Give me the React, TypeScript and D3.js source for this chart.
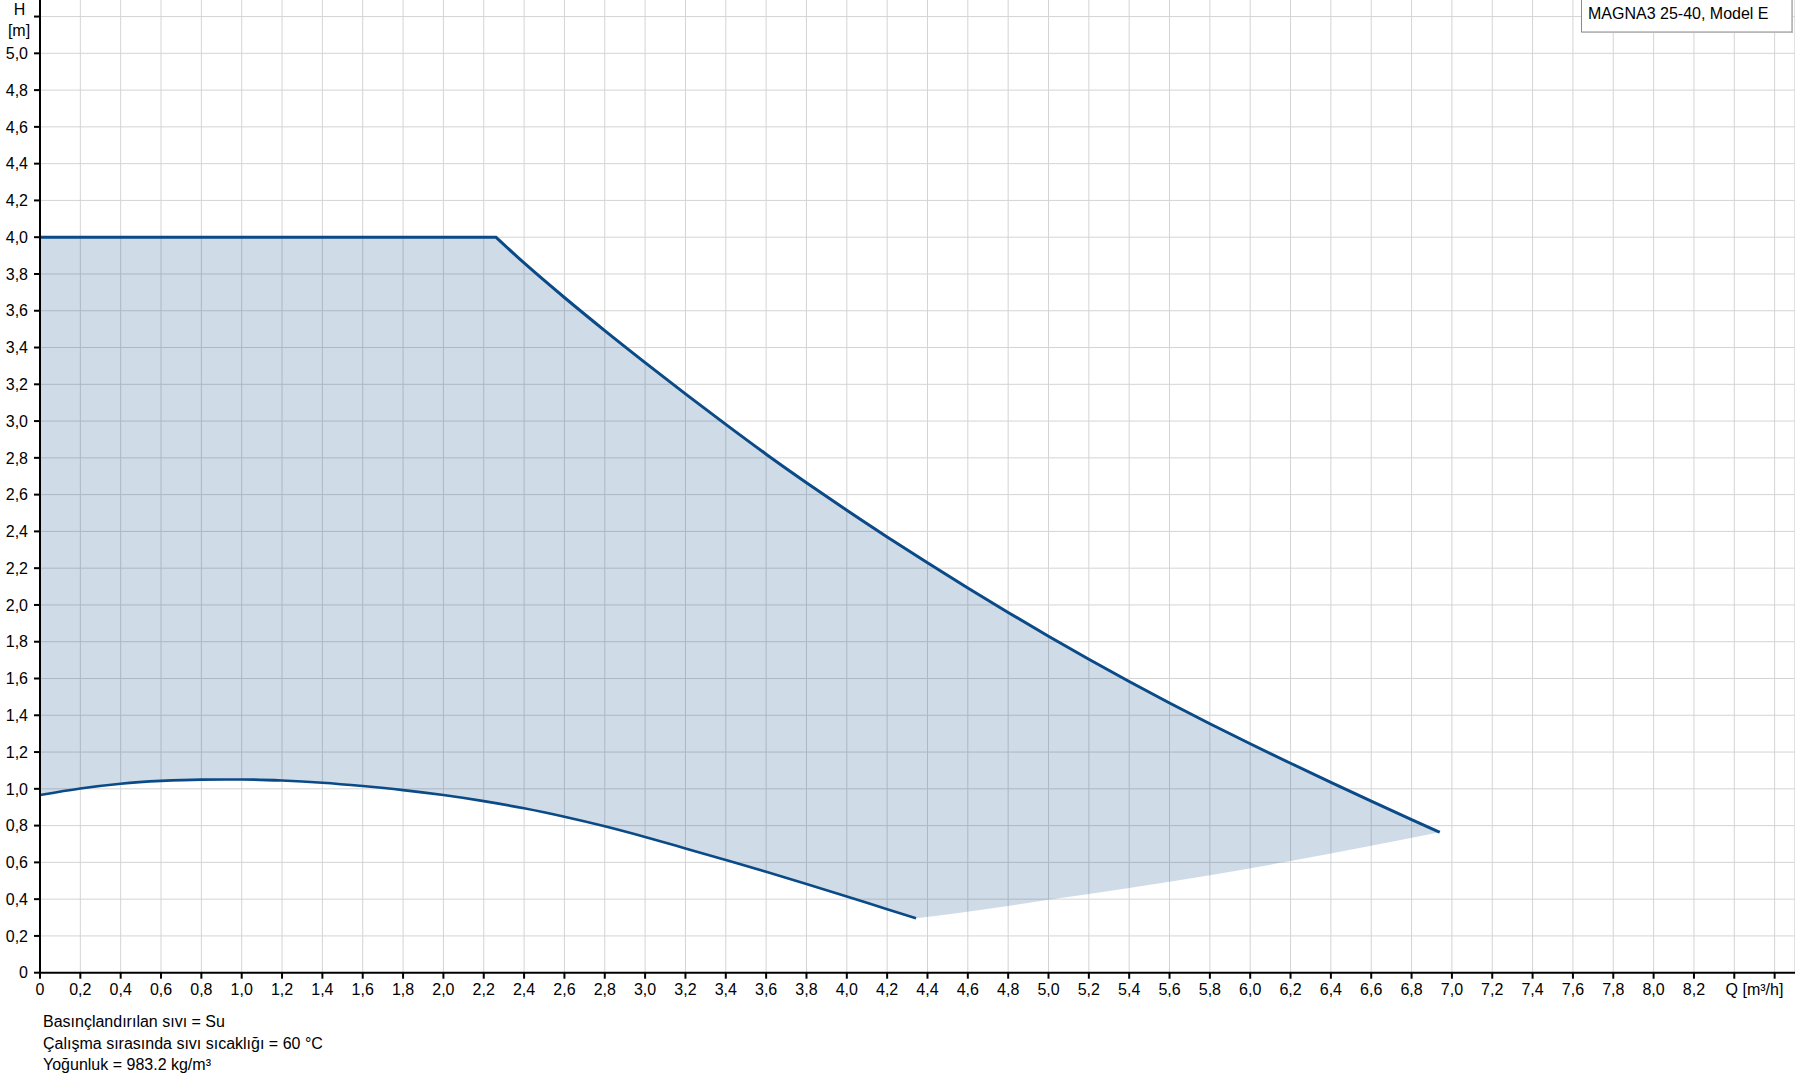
import React from "react";
import * as d3 from "d3";

const W = 1795;
const H = 1081;

// Max curve: flat part and descending part
const flatQ = [0, 2.26];
const flatH = [4.0, 4.0];
const maxQ = [2.26, 2.4, 2.6, 2.8, 3.0, 3.2, 3.4, 3.6, 3.8, 4.0, 4.2, 4.4, 4.6, 4.8, 5.0, 5.2, 5.4, 5.6, 5.8, 6.0, 6.2, 6.4, 6.6, 6.8, 6.94];
const maxH = [4.0, 3.86, 3.672, 3.492, 3.318, 3.148, 2.982, 2.82, 2.665, 2.515, 2.37, 2.229, 2.092, 1.959, 1.83, 1.705, 1.584, 1.467, 1.354, 1.245, 1.139, 1.035, 0.933, 0.833, 0.764];

// Min curve
const minQ = [0, 0.2, 0.4, 0.6, 0.8, 1.0, 1.2, 1.4, 1.6, 1.8, 2.0, 2.2, 2.4, 2.6, 2.8, 3.0, 3.2, 3.4, 3.6, 3.8, 4.0, 4.2, 4.343];
const minH = [0.966, 1.002, 1.028, 1.043, 1.05, 1.051, 1.045, 1.033, 1.015, 0.993, 0.966, 0.933, 0.894, 0.848, 0.796, 0.738, 0.676, 0.613, 0.549, 0.483, 0.415, 0.345, 0.296];

// Lower limit of the operating area (right side)
const limQ = [4.343, 4.8, 5.0, 5.4, 5.8, 6.2, 6.4, 6.94];
const limH = [0.296, 0.363, 0.397, 0.461, 0.53, 0.607, 0.648, 0.764];

const xTicks = d3.range(0, 44).map((i) => +(i * 0.2).toFixed(1)).filter((v) => v <= 8.61);
const yTicks = d3.range(0, 27).map((i) => +(i * 0.2).toFixed(1)).filter((v) => v <= 5.21);

const modelLabel = "MAGNA3 25-40, Model E";
const notes = [
  "Basınçlandırılan sıvı = Su",
  "Çalışma sırasında sıvı sıcaklığı = 60 °C",
  "Yoğunluk = 983.2 kg/m³",
];

const FONT = "Arial, 'Liberation Sans', sans-serif";

export default function App() {
  const x = d3.scaleLinear().domain([0, 8.7]).range([40, 1794.8]);
  const y = d3.scaleLinear().domain([0, 5.29]).range([972.7, 0]);

  const pts = (qs: number[], hs: number[]) => qs.map((q, i) => [q, hs[i]] as [number, number]);
  const lin = d3.line<[number, number]>().x((d) => x(d[0])).y((d) => y(d[1]));
  const mono = d3.line<[number, number]>().x((d) => x(d[0])).y((d) => y(d[1])).curve(d3.curveMonotoneX);

  const flatPath = lin(pts(flatQ, flatH)) || "";
  const maxPath = mono(pts(maxQ, maxH)) || "";
  const minPath = mono(pts(minQ, minH)) || "";
  const limPath = mono(pts(limQ, limH).reverse()) || "";
  const minRevPath = mono(pts(minQ, minH).reverse()) || "";

  const cont = (p: string) => "L" + p.slice(1);
  const fillPath = flatPath + cont(maxPath) + cont(limPath) + cont(minRevPath) + "Z";

  const fmt = (v: number) => (v === 0 ? "0" : v.toFixed(1).replace(".", ","));

  return (
    <svg
      width={W}
      height={H}
      style={{ position: "absolute", left: 0, top: 0, display: "block", background: "#fff" }}
      fontFamily={FONT}
    >
      <rect x={0} y={0} width={W} height={H} fill="#fff" />
      {/* grid */}
      <g stroke="#d4d4d4" strokeWidth={1}>
        {xTicks.filter((v) => v > 0).map((v) => (
          <line key={"gx" + v} x1={x(v)} x2={x(v)} y1={0} y2={y(0)} />
        ))}
        <line x1={x(8.7)} x2={x(8.7)} y1={0} y2={y(0)} />
        {yTicks.filter((v) => v > 0).map((v) => (
          <line key={"gy" + v} x1={x(0)} x2={x(8.7)} y1={y(v)} y2={y(v)} />
        ))}
      </g>
      {/* operating area */}
      <path d={fillPath} fill="rgb(0,61,130)" fillOpacity={0.184} stroke="none" />
      {/* curves */}
      <path d={flatPath + cont(maxPath)} fill="none" stroke="#0a4a87" strokeWidth={3} strokeLinejoin="miter" />
      <path d={minPath} fill="none" stroke="#0a4a87" strokeWidth={2.6} strokeLinejoin="round" />
      {/* axes */}
      <g stroke="#000" strokeWidth={2}>
        <line x1={x(0)} x2={x(0)} y1={0} y2={y(0) + 1} />
        <line x1={x(0) - 1} x2={W} y1={y(0)} y2={y(0)} />
        {yTicks.map((v) => (
          <line key={"ty" + v} x1={x(0) - 6} x2={x(0)} y1={y(v)} y2={y(v)} />
        ))}
        {xTicks.map((v) => (
          <line key={"tx" + v} x1={x(v)} x2={x(v)} y1={y(0)} y2={y(0) + 6} />
        ))}
      </g>
      {/* y tick labels */}
      <g fontSize={16} fill="#000" textAnchor="end">
        {yTicks.filter((v) => v <= 5.01).map((v) => (
          <text key={"ly" + v} x={28} y={y(v) + 5.7}>{fmt(v)}</text>
        ))}
      </g>
      <text x={19.5} y={15} fontSize={16} textAnchor="middle">H</text>
      <text x={19} y={35.5} fontSize={16} textAnchor="middle">[m]</text>
      {/* x tick labels */}
      <g fontSize={16} fill="#000" textAnchor="middle">
        {xTicks.filter((v) => v <= 8.21).map((v) => (
          <text key={"lx" + v} x={x(v)} y={995}>{fmt(v)}</text>
        ))}
      </g>
      <text x={x(8.5)} y={995} fontSize={16} textAnchor="middle">Q [m³/h]</text>
      {/* model label box */}
      <rect x={1581.5} y={-1} width={210.5} height={33} fill="#fff" stroke="#8a8a8a" strokeWidth={1} />
      <line x1={1582} x2={1792.5} y1={32.5} y2={32.5} stroke="#b8b8b8" strokeWidth={1} />
      <line x1={1792.5} x2={1792.5} y1={0} y2={33} stroke="#b8b8b8" strokeWidth={1} />
      <text x={1588} y={18.5} fontSize={16}>{modelLabel}</text>
      {/* notes */}
      <g fontSize={16} fill="#000">
        {notes.map((t, i) => (
          <text key={i} x={43} y={1027.3 + i * 21.5}>{t}</text>
        ))}
      </g>
    </svg>
  );
}
